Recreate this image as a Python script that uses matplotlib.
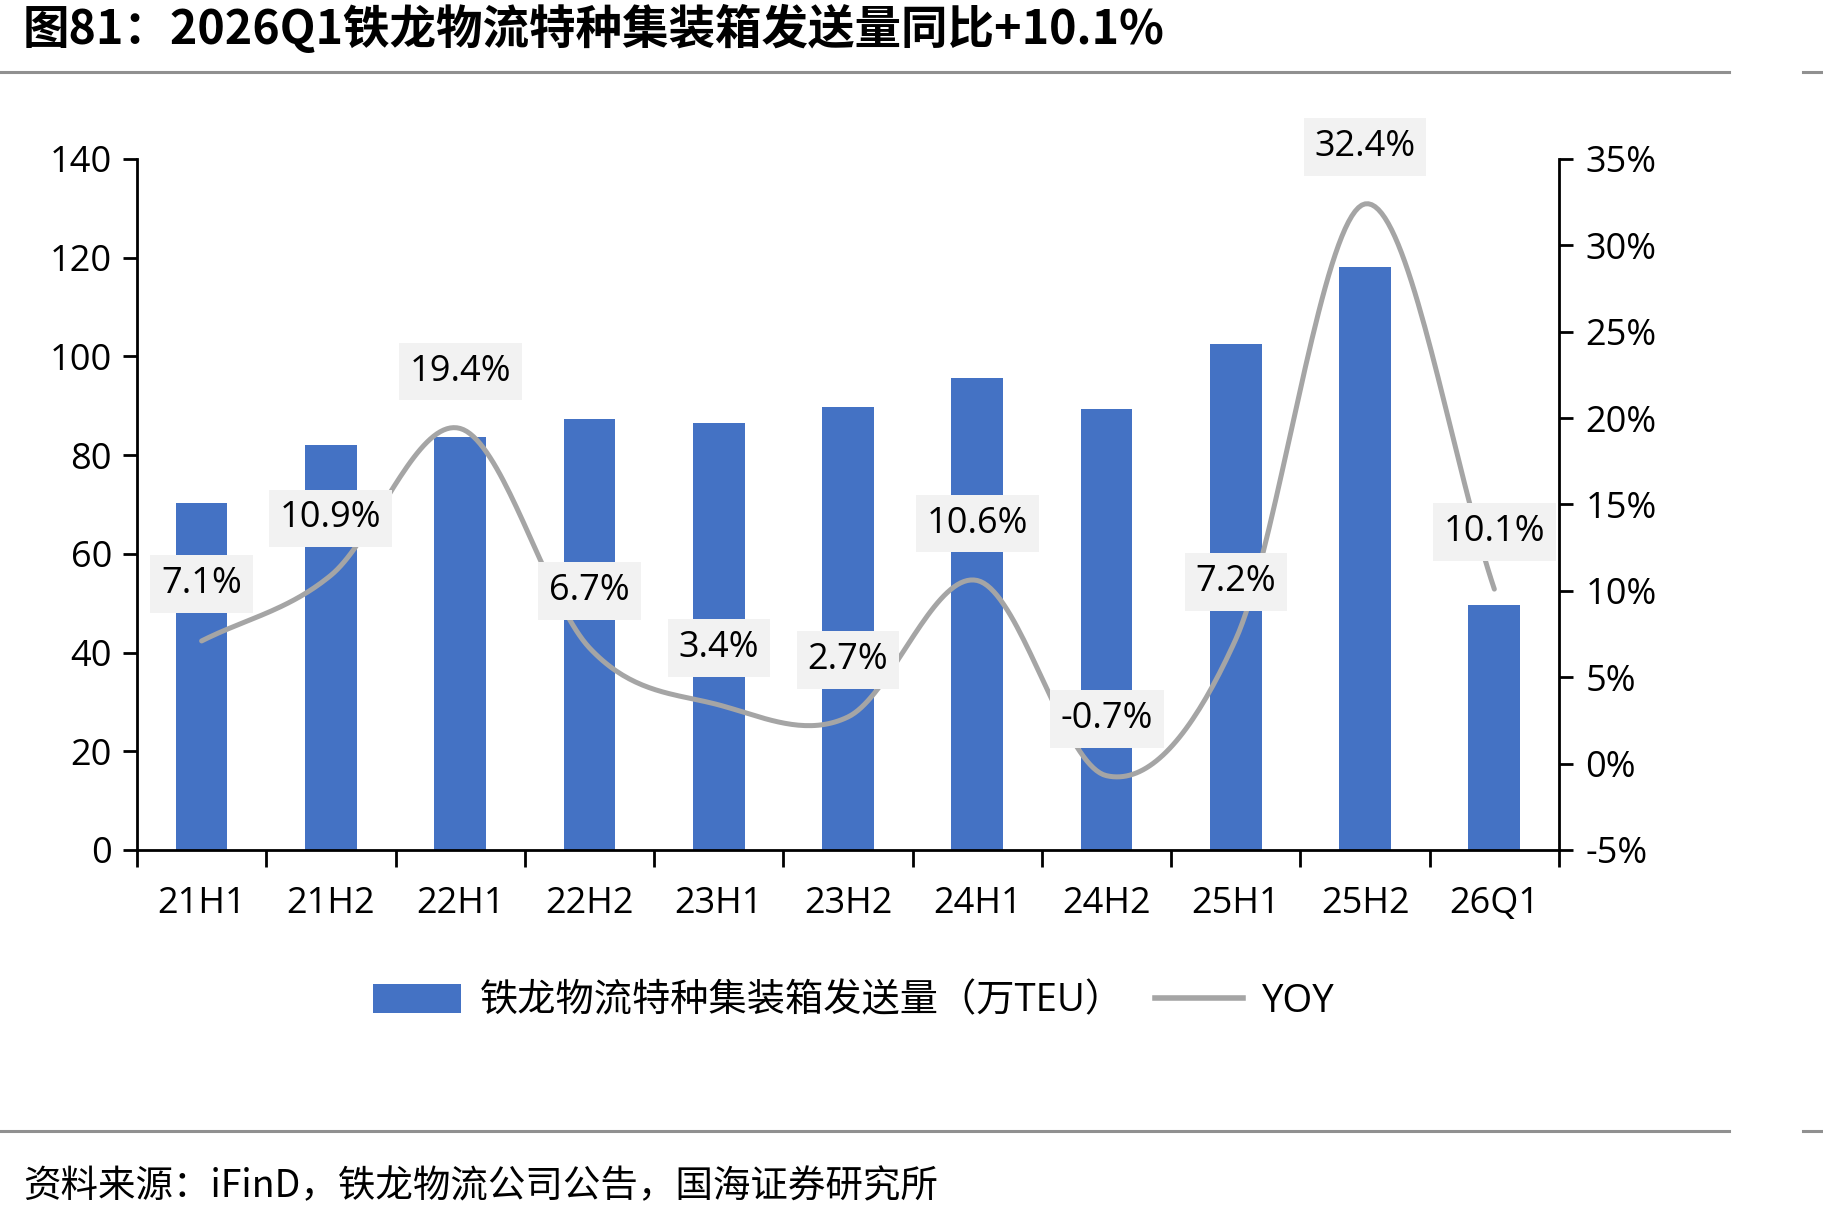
import numpy as np
import matplotlib
matplotlib.use("Agg")
import matplotlib.pyplot as plt
from matplotlib.lines import Line2D
from matplotlib.patches import Patch

plt.rcParams['font.family'] = ['Open Sans', 'Noto Sans CJK SC', 'DejaVu Sans']

categories = ['21H1', '21H2', '22H1', '22H2', '23H1', '23H2', '24H1', '24H2', '25H1', '25H2', '26Q1']
volume = [70.2, 82.0, 83.7, 87.4, 86.5, 89.8, 95.7, 89.3, 102.5, 118.1, 49.7]
yoy = [7.1, 10.9, 19.4, 6.7, 3.4, 2.7, 10.6, -0.7, 7.2, 32.4, 10.1]
yoy_labels = ['7.1%', '10.9%', '19.4%', '6.7%', '3.4%', '2.7%', '10.6%', '-0.7%', '7.2%', '32.4%', '10.1%']
left_ticks = [0, 20, 40, 60, 80, 100, 120, 140]
right_ticks = [-5, 0, 5, 10, 15, 20, 25, 30, 35]
bar_name = '铁龙物流特种集装箱发送量（万TEU）'
line_name = 'YOY'
title = '图81：2026Q1铁龙物流特种集装箱发送量同比+10.1%'
source = '资料来源：iFinD，铁龙物流公司公告，国海证券研究所'

BAR = '#4472C4'
LINE = '#A5A5A5'
FS = 26

fig = plt.figure(figsize=(18.24, 12.2), dpi=100)
ax = fig.add_axes([0.0751, 0.3033, 0.7796, 0.5664])
ax2 = ax.twinx()

x = np.arange(len(categories))
ax.bar(x, volume, width=0.40, color=BAR, zorder=2)
ax.set_xlim(-0.5, len(categories) - 0.5)
ax.set_ylim(0, 140)
ax.set_yticks(left_ticks)
ax2.set_ylim(-5, 35)
ax2.set_yticks(right_ticks)
ax2.set_yticklabels([f'{v}%' for v in right_ticks])

# smoothed line (Catmull-Rom through the data points, like Excel's smoothed line)
def catmull_rom(xs, ys, n=40):
    px = np.concatenate([[2*xs[0]-xs[1]], xs, [2*xs[-1]-xs[-2]]])
    py = np.concatenate([[2*ys[0]-ys[1]], ys, [2*ys[-1]-ys[-2]]])
    outx, outy = [], []
    t = np.linspace(0, 1, n)
    for i in range(1, len(px) - 2):
        p0x, p1x, p2x, p3x = px[i-1], px[i], px[i+1], px[i+2]
        p0y, p1y, p2y, p3y = py[i-1], py[i], py[i+1], py[i+2]
        b1x = p1x + (p2x - p0x) / 6; b1y = p1y + (p2y - p0y) / 6
        b2x = p2x - (p3x - p1x) / 6; b2y = p2y - (p3y - p1y) / 6
        bx = (1-t)**3*p1x + 3*(1-t)**2*t*b1x + 3*(1-t)*t**2*b2x + t**3*p2x
        by = (1-t)**3*p1y + 3*(1-t)**2*t*b1y + 3*(1-t)*t**2*b2y + t**3*p2y
        outx.append(bx); outy.append(by)
    return np.concatenate(outx), np.concatenate(outy)

yarr = np.array(yoy, dtype=float)
sx, sy = catmull_rom(x.astype(float), yarr / 4.0)
ax2.plot(sx, sy * 4.0, color=LINE, lw=3.6, solid_capstyle='round', zorder=3)

for xi, yi, lab in zip(x, yoy, yoy_labels):
    ax2.annotate(lab, (xi, yi), xytext=(0, 41), textcoords='offset points',
                 ha='center', va='center', fontsize=FS, color='black', zorder=5,
                 bbox=dict(boxstyle='square,pad=0.3', fc='#F2F2F2', ec='none'))

for a in (ax, ax2):
    a.spines['top'].set_visible(False)
    a.spines['left'].set_linewidth(2)
    a.spines['right'].set_linewidth(2)
    a.spines['bottom'].set_linewidth(2)
ax.spines['right'].set_visible(False)
ax2.spines['left'].set_visible(False)
ax2.spines['bottom'].set_visible(False)

ax.set_xticks(x)
ax.set_xticklabels(categories)
ax.set_xticks(np.arange(-0.5, len(categories), 1.0), minor=True)
ax.tick_params(axis='x', which='major', length=0, pad=26, labelsize=FS)
ax.tick_params(axis='x', which='minor', length=12, width=2, direction='out')
ax.tick_params(axis='y', length=10, width=2, direction='out', labelsize=FS, pad=8)
ax2.tick_params(axis='y', length=10, width=2, direction='out', labelsize=FS, pad=9)

handles = [Patch(facecolor=BAR, edgecolor='none'),
           Line2D([0], [0], color=LINE, lw=4)]
fig.legend(handles, [bar_name, line_name], loc='center', bbox_to_anchor=(0.468, 0.179),
           ncol=2, frameon=False, handlelength=2.3, handleheight=0.8,
           columnspacing=0.8, handletextpad=0.5,
           prop={'family': ['Open Sans', 'Noto Sans CJK SC'], 'size': 27.5})

fig.text(0.0126, 0.976, title, fontsize=33.5, fontweight='bold', ha='left', va='center',
         family=['Noto Sans CJK SC', 'DejaVu Sans'])
rule = '#909090'
fig.add_artist(Line2D([0, 0.948], [0.941, 0.941], color=rule, lw=2.2))
fig.add_artist(Line2D([0.9885, 1.0], [0.941, 0.941], color=rule, lw=2.2))
fig.add_artist(Line2D([0, 0.948], [0.073, 0.073], color=rule, lw=2.2))
fig.add_artist(Line2D([0.9885, 1.0], [0.073, 0.073], color=rule, lw=2.2))
fig.text(0.0126, 0.027, source, fontsize=27, ha='left', va='center',
         family=['Noto Sans CJK SC', 'DejaVu Sans'])

fig.savefig('out.png', dpi=100)
